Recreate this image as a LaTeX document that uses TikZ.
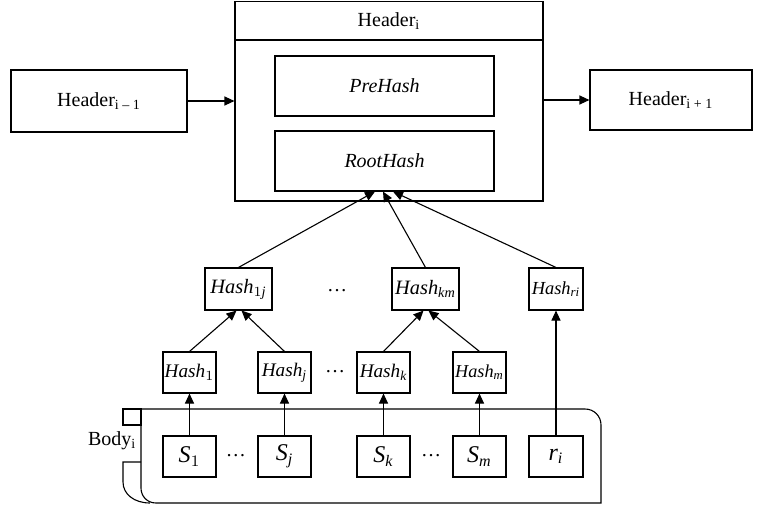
\documentclass[tikz,border=0pt]{standalone}
\usepackage{fontspec}
\setmainfont{Liberation Serif}
\usepackage{tikz}
\usetikzlibrary{arrows.meta, positioning, calc}

\begin{document}
\begin{tikzpicture}[
    x=0.5pt, y=-0.5pt,
    line width=0.55pt,
    every node/.style={font=\fontsize{10}{12}\selectfont, inner sep=0.6pt},
    hdrbox/.style={draw, rectangle, minimum width=88pt, minimum height=31pt},
    inbox/.style={draw, rectangle, minimum width=109.5pt, minimum height=30pt, font=\fontsize{10}{12}\selectfont\itshape},
    hashbox/.style={draw, rectangle, minimum width=33.5pt, minimum height=21pt, font=\fontsize{10.2}{12}\selectfont},
    leafbox/.style={draw, rectangle, minimum width=26.5pt, minimum height=20.5pt, font=\fontsize{9.6}{11}\selectfont},
    txbox/.style={draw, rectangle, minimum width=26.5pt, minimum height=20.5pt, font=\fontsize{12}{14}\selectfont},
    arr/.style={-{Triangle[length=5pt, width=4.5pt]}}
]
\useasboundingbox (0,0) rectangle (757,505);

\node[hdrbox] (prev) at (99,101) {Header\textsubscript{i -- 1}};
\node[draw, minimum width=154pt, minimum height=99.75pt] (blk) at (389,101.25) {};
\node[draw, minimum width=154pt, minimum height=19.25pt, anchor=north] (blkt) at (blk.north) {Header\textsubscript{i}};
\node[inbox] (pre) at (384.5,86) {PreHash};
\node[inbox] (root) at (384.5,161) {RootHash};
\node[hdrbox, minimum width=81pt, minimum height=30pt] (next) at (671,100) {Header\textsubscript{i + 1}};

\node[hashbox] (h1j) at (238.5,289) {$\mathit{Hash}_{1\mathit{j}}$};
\node (dt1) at (337,291) {\dots};
\node[hashbox] (hkm) at (425.5,289) {$\mathit{Hash}_{\mathit{km}}$};
\node[hashbox, minimum width=27pt, font=\fontsize{9.2}{11}\selectfont] (hri) at (556,289) {$\mathit{Hash}_{\mathit{ri}}$};

\node[leafbox] (h1) at (189.5,372.5) {$\mathit{Hash}_1$};
\node[leafbox] (hj) at (284.5,372.5) {$\mathit{Hash}_{\mathit{j}}$};
\node (dt2) at (335,372) {\dots};
\node[leafbox] (hk) at (383.5,372.5) {$\mathit{Hash}_{\mathit{k}}$};
\node[leafbox, font=\fontsize{9.1}{11}\selectfont] (hm) at (479.5,372.5) {$\mathit{Hash}_{\mathit{m}}$};

\node[txbox] (s1) at (189.5,456.5) {$\mathit{S}_1$};
\node (dt3) at (236,456) {\dots};
\node[txbox] (sj) at (284.5,456.5) {$\mathit{S}_{\mathit{j}}$};
\node[txbox] (sk) at (383.5,456.5) {$\mathit{S}_{\mathit{k}}$};
\node (dt4) at (431,456) {\dots};
\node[txbox] (sm) at (479.5,456.5) {$\mathit{S}_{\mathit{m}}$};
\node[txbox, minimum width=27pt] (ri) at (556,456.5) {$\mathit{r}_{\mathit{i}}$};

\draw (141,425) -- (141,409) -- (585,409) .. controls (594,409) and (601,416) .. (601,425) -- (601,503) -- (156,503) .. controls (147,503) and (141,496) .. (141,488) -- cycle;
\draw (123,409) rectangle (141,425);
\draw (141,462) -- (123,462) -- (123,482) .. controls (123,494) and (134,503) .. (150,503);
\node[anchor=east, font=\fontsize{10}{12}\selectfont] (body) at (138,441) {Body\textsubscript{i}};

\draw[arr] (prev.east) -- (prev.east -| blk.west);
\draw[arr] (blk.east |- next.west) -- (next.west);

\draw[arr] (s1) -- (h1);
\draw[arr] (sj) -- (hj);
\draw[arr] (sk) -- (hk);
\draw[arr] (sm) -- (hm);
\draw[arr] (ri) -- (hri);

\draw[arr] (h1.north) -- ([xshift=-1pt]h1j.south);
\draw[arr] (hj.north) -- ([xshift=1.5pt]h1j.south);
\draw[arr] (hk.north) -- ([xshift=-1pt]hkm.south);
\draw[arr] (hm.north) -- ([xshift=1.5pt]hkm.south);

\draw[arr] (h1j.north) -- ([xshift=-4.75pt]root.south);
\draw[arr] (hkm.north) -- ([xshift=-0.75pt]root.south);
\draw[arr] (hri.north) -- ([xshift=4.25pt]root.south);

\end{tikzpicture}
\end{document}
